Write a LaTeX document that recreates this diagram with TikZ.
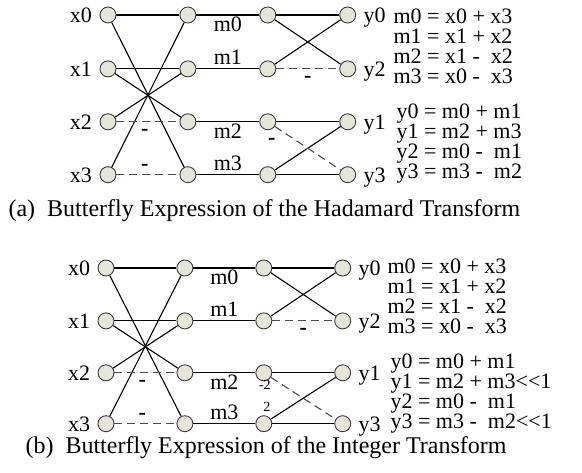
\documentclass[tikz,border=0pt]{standalone}
\usepackage{fontspec}
\setmainfont{Liberation Serif}
\usetikzlibrary{positioning}
\definecolor{knot}{HTML}{E6E6D8}
\definecolor{rim}{HTML}{3C3C3C}

\begin{document}
\begin{tikzpicture}[x=1pt, y=-1pt, node distance=36pt and 62pt, line width=1.1pt,
  knt/.style={circle, draw=rim, fill=knot, line width=0.9pt, minimum size=16pt, inner sep=0pt},
  lbl/.style={inner sep=0pt, text height=15pt, text depth=0pt, font=\fontsize{22}{20}\selectfont},
  sgn/.style={inner sep=0pt, font=\fontsize{22}{22}\selectfont\bfseries},
  sml/.style={inner sep=0pt, font=\fontsize{14}{14}\selectfont},
  dsh/.style={dash pattern=on 8pt off 5pt, draw=black!70},
  eqn/.style={inner sep=0pt, align=left, anchor=north west, font=\fontsize{22}{20}\selectfont},
  captxt/.style={inner sep=0pt, anchor=base west, font=\fontsize{24}{26}\selectfont}]
  \useasboundingbox (0,0) rectangle (582,473);
  % (a) Hadamard
  \begin{scope}[node distance=36pt and 63pt]
  \node[knt] (xa0) at (108,15) {};
  \node[knt, below=37pt of xa0] (xa1) {};
  \node[knt, below=of xa1] (xa2) {};
  \node[knt, below=of xa2] (xa3) {};
  \node[knt, right=of xa0] (pa0) {};
  \node[knt, right=of xa1] (pa1) {};
  \node[knt, right=of xa2] (pa2) {};
  \node[knt, right=of xa3] (pa3) {};
  \node[knt, right=of pa0] (qa0) {};
  \node[knt, right=of pa1] (qa1) {};
  \node[knt, right=of pa2] (qa2) {};
  \node[knt, right=of pa3] (qa3) {};
  \node[knt, right=of qa0] (oa0) {};
  \node[knt, right=of qa1] (oa1) {};
  \node[knt, right=of qa2] (oa2) {};
  \node[knt, right=of qa3] (oa3) {};
  \end{scope}
  \node[lbl, left=7pt of xa0] (lxa0) {x0};
  \node[lbl, left=7pt of xa1] (lxa1) {x1};
  \node[lbl, left=7pt of xa2] (lxa2) {x2};
  \node[lbl, left=7pt of xa3] (lxa3) {x3};
  \node[lbl, right=7pt of oa0] (loa0) {y0};
  \node[lbl, right=7pt of oa1] (loa1) {y2};
  \node[lbl, right=7pt of oa2] (loa2) {y1};
  \node[lbl, right=7pt of oa3] (loa3) {y3};
  \draw (xa0) -- (pa0);
  \draw (xa0) -- (pa3);
  \draw (xa1) -- (pa1);
  \draw (xa1) -- (pa2);
  \draw (xa2) -- (pa1);
  \draw (xa3) -- (pa0);
  \draw[dsh] (xa2) -- node[sgn, pos=0.45, below=7pt] (na0) {-} (pa2);
  \draw[dsh] (xa3) -- node[sgn, pos=0.45, above=4pt] (na1) {-} (pa3);
  \draw (pa0) -- node[lbl, below=1pt] (ma0) {m0} (qa0);
  \draw (pa1) -- node[lbl, above=4pt] (ma1) {m1} (qa1);
  \draw (pa2) -- node[lbl, below=1pt] (ma2) {m2} (qa2);
  \draw (pa3) -- node[lbl, above=4pt] (ma3) {m3} (qa3);
  \draw (qa0) -- (oa0);
  \draw (qa0) -- (oa1);
  \draw (qa1) -- (oa0);
  \draw[dsh] (qa1) -- node[sgn, below=7pt] (na2) {-} (oa1);
  \draw (qa2) -- (oa2);
  \draw (qa3) -- (oa2);
  \draw (qa3) -- (oa3);
  \draw[dsh] (qa2) -- node[sgn, pos=0, below=11pt, xshift=-3pt] (na3) {-} (oa3);
  \node[eqn] (ea0) at (393,8) {m0 = x0 + x3\\m1 = x1 + x2\\m2 = x1 -~ x2\\m3 = x0 -~ x3};
  \node[eqn] (ea1) at (396,103) {y0 = m0 + m1\\y1 = m2 + m3\\y2 = m0 -~ m1\\y3 = m3 -~ m2};
  \node[captxt] (capa) at (8,217) {(a)~~Butterfly Expression of the Hadamard Transform};
  % (b) integer
  \node[knt] (xb0) at (106,268) {};
  \node[knt, below=of xb0] (xb1) {};
  \node[knt, below=35pt of xb1] (xb2) {};
  \node[knt, below=34pt of xb2] (xb3) {};
  \node[knt, right=of xb0] (pb0) {};
  \node[knt, right=of xb1] (pb1) {};
  \node[knt, right=of xb2] (pb2) {};
  \node[knt, right=of xb3] (pb3) {};
  \node[knt, right=of pb0] (qb0) {};
  \node[knt, right=of pb1] (qb1) {};
  \node[knt, right=of pb2] (qb2) {};
  \node[knt, right=of pb3] (qb3) {};
  \node[knt, right=of qb0] (ob0) {};
  \node[knt, right=of qb1] (ob1) {};
  \node[knt, right=of qb2] (ob2) {};
  \node[knt, right=of qb3] (ob3) {};
  \node[lbl, left=7pt of xb0] (lxb0) {x0};
  \node[lbl, left=7pt of xb1] (lxb1) {x1};
  \node[lbl, left=7pt of xb2] (lxb2) {x2};
  \node[lbl, left=7pt of xb3] (lxb3) {x3};
  \node[lbl, right=7pt of ob0] (lob0) {y0};
  \node[lbl, right=7pt of ob1] (lob1) {y2};
  \node[lbl, right=7pt of ob2] (lob2) {y1};
  \node[lbl, right=7pt of ob3] (lob3) {y3};
  \draw (xb0) -- (pb0);
  \draw (xb0) -- (pb3);
  \draw (xb1) -- (pb1);
  \draw (xb1) -- (pb2);
  \draw (xb2) -- (pb1);
  \draw (xb3) -- (pb0);
  \draw[dsh] (xb2) -- node[sgn, pos=0.45, below=7pt] (nb0) {-} (pb2);
  \draw[dsh] (xb3) -- node[sgn, pos=0.45, above=4pt] (nb1) {-} (pb3);
  \draw (pb0) -- node[lbl, below=1pt] (mb0) {m0} (qb0);
  \draw (pb1) -- node[lbl, above=4pt] (mb1) {m1} (qb1);
  \draw (pb2) -- node[lbl, below=1pt] (mb2) {m2} (qb2);
  \draw (pb3) -- node[lbl, above=4pt] (mb3) {m3} (qb3);
  \draw (qb0) -- (ob0);
  \draw (qb0) -- (ob1);
  \draw (qb1) -- (ob0);
  \draw[dsh] (qb1) -- node[sgn, below=7pt] (nb2) {-} (ob1);
  \draw (qb2) -- (ob2);
  \draw (qb3) -- node[sml, pos=0, xshift=-4pt, yshift=12pt] (kb1) {2} (ob2);
  \draw (qb3) -- (ob3);
  \draw[dsh] (qb2) -- node[sml, pos=0, xshift=-6pt, yshift=-7pt] (kb0) {-2} (ob3);
  \node[eqn] (eb0) at (387,258) {m0 = x0 + x3\\m1 = x1 + x2\\m2 = x1 -~ x2\\m3 = x0 -~ x3};
  \node[eqn] (eb1) at (390,353) {y0 = m0 + m1\\y1 = m2 + m3<\kern0pt<1\\y2 = m0 -~ m1\\y3 = m3 -~ m2<\kern0pt<1};
  \node[captxt] (capb) at (25,454) {(b)~~Butterfly Expression of the Integer Transform};
\end{tikzpicture}
\end{document}
